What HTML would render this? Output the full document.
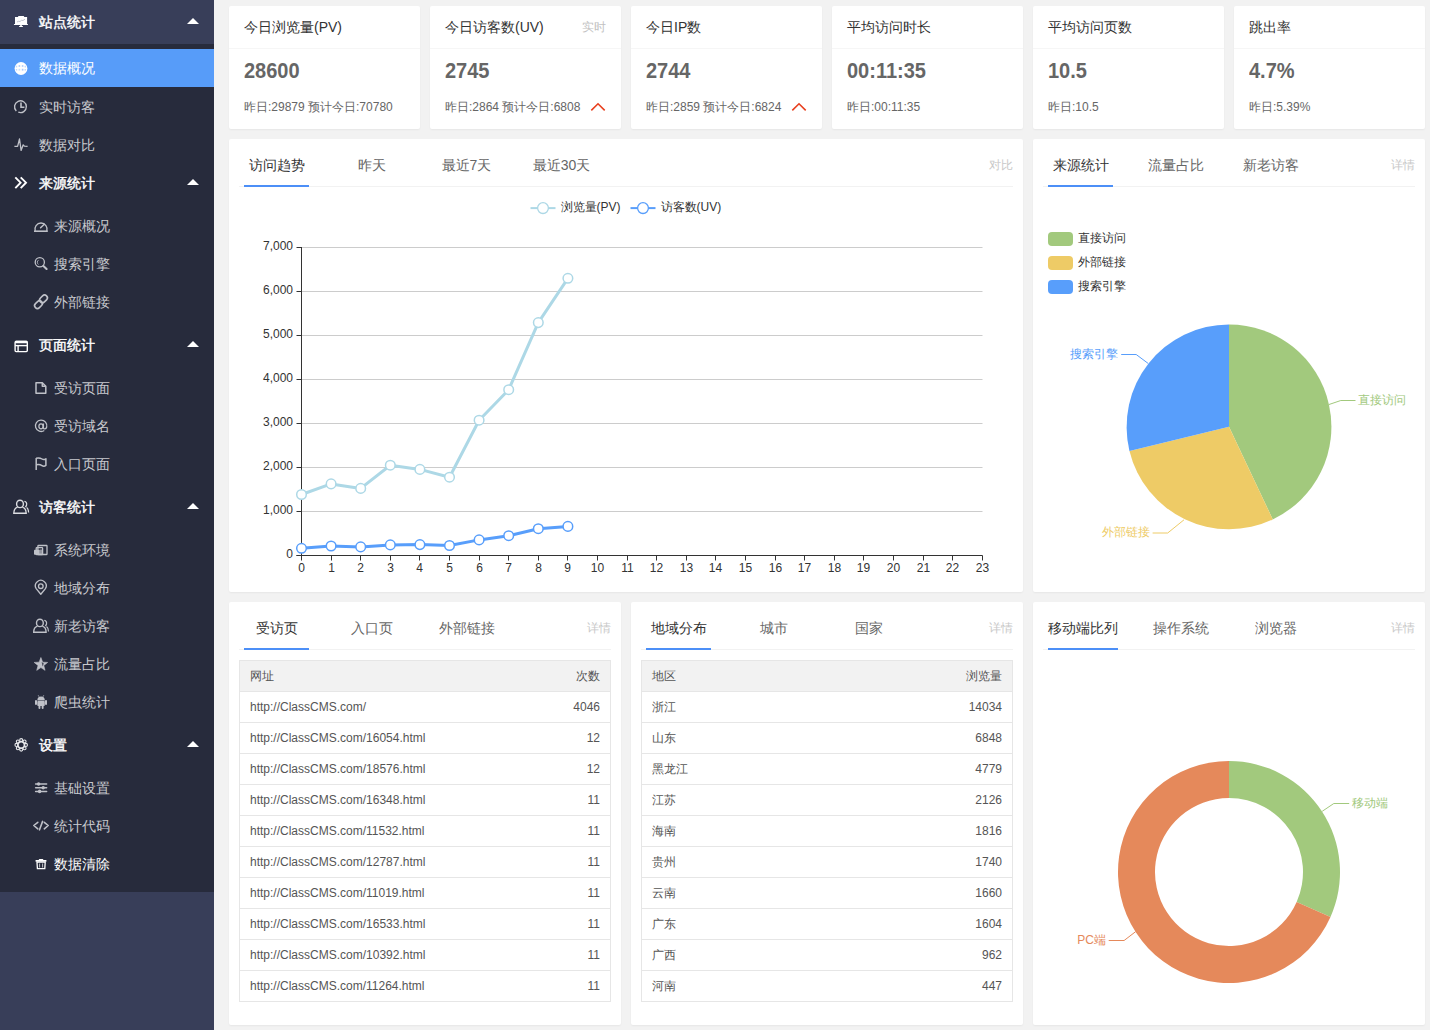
<!DOCTYPE html><html><head><meta charset="utf-8"><style>
*{box-sizing:border-box;margin:0;padding:0}
html,body{width:1430px;height:1030px;overflow:hidden;background:#f2f2f2;font-family:"Liberation Sans",sans-serif;color:#333}
.abs{position:absolute}
#side{position:absolute;left:0;top:0;width:214px;height:1030px;background:#383e59}
#side .dark{position:absolute;left:0;top:44px;width:214px;height:848px;background:#272b3c}
#side .sel-bg{position:absolute;left:0;top:49px;width:214px;height:38px;background:#579cf9}
.mi{position:absolute;left:0;width:214px;height:38px;line-height:38px;font-size:14px;color:#c9cacf;white-space:nowrap}
.mi .t{position:absolute;left:39px;top:0}
.mi.sub .t{left:54px}
.mi.grp,.mi.sel,.mi.hov{color:#fff}
.mi.grp .t{font-weight:normal;-webkit-text-stroke:0.4px #fff}
.mi svg{position:absolute}
.mi .arr{position:absolute;left:187px;top:15px;width:0;height:0;border-left:6px solid transparent;border-right:6px solid transparent;border-bottom:6px solid #fff}
.card{position:absolute;background:#fff;border-radius:2px;box-shadow:0 1px 2px 0 rgba(0,0,0,.05)}
.sc .hd{height:43px;line-height:42px;padding:0 15px;border-bottom:1px solid #f6f6f6;font-size:14px;color:#333;position:relative}
.sc .hd .rt{position:absolute;right:15px;top:0;font-size:12px;color:#c2c2c2}
.sc .num{position:absolute;left:15px;top:50px;font-size:20px;font-weight:bold;color:#666;line-height:30px;transform:scaleY(1.07);transform-origin:0 22px}
.sc .sub{position:absolute;left:15px;top:86px;font-size:12px;color:#666;line-height:30px}
.sc .up{position:absolute;right:15px;top:96px}
.tabs{position:absolute;left:0;top:0;height:48px;right:0}
.tabs .ln{position:absolute;left:10px;right:10px;top:47px;height:1px;background:#f2f2f2}
.tabs .ul{position:absolute;left:0;top:6px;white-space:nowrap;font-size:0}
.tabs .li{display:inline-block;position:relative;box-sizing:content-box;min-width:65px;height:40px;line-height:40px;padding:0 15px;text-align:center;font-size:14px;color:#666}
.tabs .li.on{color:#333}
.tabs .li.on:after{content:"";position:absolute;left:15px;right:15px;top:40px;height:2px;background:#4c8ff7}
.tabs .rt{position:absolute;right:10px;top:6px;line-height:40px;font-size:12px;color:#c8c8c8}
table.t{position:absolute;border-collapse:collapse;font-size:12px;color:#555;table-layout:fixed}
table.t td,table.t th{border-top:1px solid #e6e6e6;border-bottom:1px solid #e6e6e6;height:31px;padding:0 10px;line-height:20px;font-weight:normal;text-align:left}
table.t th{background:#f2f2f2}
table.t{border:1px solid #e6e6e6}
table.t .r{text-align:right}
svg text{font-family:"Liberation Sans",sans-serif}
.al{font-size:12px;fill:#333}
.lg{font-size:12px;fill:#333}
.pl{font-size:12px}

</style></head><body>
<div id="side"><div class="dark"></div>
<div class="sel-bg"></div>
<div class="mi grp" style="top:3px"><span class="t">站点统计</span><span class="arr"></span></div>
<div class="mi sel" style="top:49px"><span class="t">数据概况</span></div>
<div class="mi" style="top:88px"><span class="t">实时访客</span></div>
<div class="mi" style="top:126px"><span class="t">数据对比</span></div>
<div class="mi grp" style="top:164px"><span class="t">来源统计</span><span class="arr"></span></div>
<div class="mi sub" style="top:207px"><span class="t">来源概况</span></div>
<div class="mi sub" style="top:245px"><span class="t">搜索引擎</span></div>
<div class="mi sub" style="top:283px"><span class="t">外部链接</span></div>
<div class="mi grp" style="top:326px"><span class="t">页面统计</span><span class="arr"></span></div>
<div class="mi sub" style="top:369px"><span class="t">受访页面</span></div>
<div class="mi sub" style="top:407px"><span class="t">受访域名</span></div>
<div class="mi sub" style="top:445px"><span class="t">入口页面</span></div>
<div class="mi grp" style="top:488px"><span class="t">访客统计</span><span class="arr"></span></div>
<div class="mi sub" style="top:531px"><span class="t">系统环境</span></div>
<div class="mi sub" style="top:569px"><span class="t">地域分布</span></div>
<div class="mi sub" style="top:607px"><span class="t">新老访客</span></div>
<div class="mi sub" style="top:645px"><span class="t">流量占比</span></div>
<div class="mi sub" style="top:683px"><span class="t">爬虫统计</span></div>
<div class="mi grp" style="top:726px"><span class="t">设置</span><span class="arr"></span></div>
<div class="mi sub" style="top:769px"><span class="t">基础设置</span></div>
<div class="mi sub" style="top:807px"><span class="t">统计代码</span></div>
<div class="mi sub hov" style="top:845px"><span class="t">数据清除</span></div>
<svg class="abs" style="left:0;top:0;pointer-events:none" width="214" height="1030"><g fill="#ffffff"><rect x="18" y="15.9" width="6.2" height="1.6" rx="0.8"/><rect x="15" y="17" width="12.1" height="7.2"/><rect x="13.9" y="24" width="14.1" height="1.1" rx="0.4"/><rect x="20.2" y="25" width="1.6" height="1.2"/><rect x="19" y="26" width="4" height="1.1" rx="0.5"/></g><polyline points="17,22 18.5,21.3 20,21.5 21.5,20.3 23,20.5 25,19.2" fill="none" stroke="#9aa0b0" stroke-width="0.6"/><circle cx="21" cy="68.5" r="6.4" fill="#ffffff"/><g fill="#a9c9fb"><rect x="18.6" y="65.2" width="1.6" height="1.6"/><rect x="21.8" y="65.2" width="1.6" height="1.6"/><rect x="18.6" y="68.8" width="1.6" height="1.8" opacity=".6"/><rect x="21.8" y="68.8" width="1.6" height="1.8"/><rect x="15.8" y="65.8" width="1.4" height="1.6" opacity=".7"/><rect x="24.6" y="65.8" width="1.4" height="1.6" opacity=".7"/><rect x="15.8" y="69" width="1.4" height="1.6" opacity=".7"/><rect x="24.6" y="69" width="1.4" height="1.6" opacity=".7"/></g><g fill="none" stroke="#bfc1c8" stroke-width="1.4"><path d="M16.3,110.9 A5.9,5.9 0 1 1 18.3,112.2"/><polyline points="21,102.6 21,107.3 24.4,107.3" stroke-width="1.6"/></g><polyline points="14.4,146.3 17.6,146.3 19.5,139 21.1,150.4 23.2,144.8 24.4,146.2 27.6,146.3" fill="none" stroke="#bfc1c8" stroke-width="1.3" stroke-linejoin="round"/><g fill="none" stroke="#ffffff" stroke-width="1.9"><polyline points="15.3,177.3 20.6,182.7 15.3,188.1"/><polyline points="20.7,177.3 26,182.7 20.7,188.1"/></g><g fill="none" stroke="#bfc1c8" stroke-width="1.3"><path d="M35.2,231 A6.1,6.1 0 1 1 46.8,231"/><line x1="34" y1="231.2" x2="47.8" y2="231.2" stroke-width="1.6"/><line x1="40.6" y1="227.8" x2="44.3" y2="224.3" stroke-width="1.5" stroke-linecap="round"/></g><g fill="none" stroke="#bfc1c8"><circle cx="39.8" cy="262.3" r="4.6" stroke-width="1.3"/><path d="M38.4,260.2 A2.6,2.6 0 0 0 38.4,264.4" stroke-width="0.9"/><line x1="43.4" y1="266" x2="46.6" y2="269" stroke-width="2.1" stroke-linecap="round"/></g><g fill="none" stroke="#bfc1c8" stroke-width="1.6"><rect x="-4.3" y="-2.8" width="8.6" height="5.6" rx="2.8" transform="translate(43.5,298.9) rotate(-45)"/><rect x="-4.3" y="-2.8" width="8.6" height="5.6" rx="2.8" transform="translate(38.5,304.6) rotate(-45)"/></g><g fill="none" stroke="#ffffff" stroke-width="1.4"><rect x="15.1" y="341.4" width="12.2" height="10.2" rx="1"/><line x1="15.1" y1="345.6" x2="27.3" y2="345.6"/><line x1="18.1" y1="345.6" x2="18.1" y2="351.6"/></g><rect x="15" y="340.7" width="12.4" height="2.6" fill="#ffffff" rx="0.8"/><g fill="none" stroke="#bfc1c8" stroke-width="1.5" stroke-linejoin="round"><path d="M36,382.8 L42.3,382.8 L45.8,386.3 L45.8,393.2 L36,393.2 Z"/><path d="M42.3,382.8 L42.3,386.3 L45.8,386.3"/></g><g fill="none" stroke="#bfc1c8" stroke-width="1.3"><ellipse cx="41" cy="426.3" rx="2.1" ry="2.5"/><path d="M43.4,423.4 L43.4,427.8 C43.6,429.4 46.1,429.5 46.7,427 A5.7,5.7 0 1 0 44.3,430.5"/></g><g fill="none" stroke="#bfc1c8" stroke-width="1.5" stroke-linejoin="round"><line x1="36.2" y1="458" x2="36.2" y2="470"/><path d="M36.2,458.2 C39,457.4 40.8,458.2 42,459 C43.5,460 44.8,459.6 45.9,458.8 L45.9,465.4 C44.8,466.3 43.5,466.6 42,465.6 C40.8,464.8 39,464.2 36.2,464.8"/></g><g fill="none" stroke="#dcdde1" stroke-width="1.4" transform="translate(0,0)"><ellipse cx="20" cy="503.9" rx="3.4" ry="3.7"/><path d="M17.6,507.2 C15.2,507.9 13.8,510.3 13.8,513.3 L26.2,513.3 C26.2,510.3 24.8,507.9 22.4,507.2"/><path d="M24.4,501.3 C26.2,501.6 27,503.2 26.6,505 C26.4,506 25.8,506.6 25.4,507" stroke-width="1.2"/><path d="M26.6,507.6 C27.9,508.6 28.6,510.5 28.6,512.4" stroke-width="1.2"/></g><g fill="none" stroke="#bfc1c8" stroke-width="1.3"><rect x="37.9" y="545.5" width="9.1" height="9" rx="0.6"/><rect x="36.2" y="547.7" width="6.4" height="6.8" rx="0.6"/></g><rect x="34" y="549.8" width="5.7" height="5" rx="0.8" fill="#bfc1c8"/><rect x="39.6" y="549.5" width="2.6" height="4.6" fill="#bfc1c8" opacity=".7"/><g fill="none" stroke="#bfc1c8" stroke-width="1.35"><path d="M40.8,594.2 L36.2,588.6 A5.4,5.4 0 1 1 45.4,588.6 Z" stroke-linejoin="round"/><circle cx="40.8" cy="586.2" r="2.3"/></g><g fill="none" stroke="#bfc1c8" stroke-width="1.4" transform="translate(19.9,119)"><ellipse cx="20" cy="503.9" rx="3.4" ry="3.7"/><path d="M17.6,507.2 C15.2,507.9 13.8,510.3 13.8,513.3 L26.2,513.3 C26.2,510.3 24.8,507.9 22.4,507.2"/><path d="M24.4,501.3 C26.2,501.6 27,503.2 26.6,505 C26.4,506 25.8,506.6 25.4,507" stroke-width="1.2"/><path d="M26.6,507.6 C27.9,508.6 28.6,510.5 28.6,512.4" stroke-width="1.2"/></g><polygon points="40.90,657.50 39.14,662.17 34.15,662.41 38.05,665.53 36.73,670.34 40.90,667.60 45.07,670.34 43.75,665.53 47.65,662.41 42.66,662.17" fill="#bfc1c8" stroke="#bfc1c8" stroke-width="0.6" stroke-linejoin="round"/><path d="M41.6,662 L43.8,663.6 L42.6,666.5 Z" fill="#282b3c" opacity=".8"/><g fill="#bfc1c8"><path d="M37.3,700.5 A3.75,3.9 0 0 1 44.8,700.5 Z"/><rect x="37.3" y="701" width="7.5" height="5" rx="0.8"/><rect x="35" y="700" width="2" height="4.9" rx="1"/><rect x="45" y="700" width="2" height="4.9" rx="1"/><rect x="38.5" y="705" width="1.9" height="3.9" rx="0.9"/><rect x="41.7" y="705" width="1.9" height="3.9" rx="0.9"/></g><g stroke="#bfc1c8" stroke-width="0.7"><line x1="38.2" y1="695.2" x2="39" y2="696.8"/><line x1="43.8" y1="695.2" x2="43" y2="696.8"/></g><g transform="translate(21.2,744.9)" fill="#272b3c" stroke="#e6e7ea" stroke-width="1.1"><circle cx="4.70" cy="0.00" r="1.55"/><circle cx="3.32" cy="3.32" r="1.55"/><circle cx="0.00" cy="4.70" r="1.55"/><circle cx="-3.32" cy="3.32" r="1.55"/><circle cx="-4.70" cy="0.00" r="1.55"/><circle cx="-3.32" cy="-3.32" r="1.55"/><circle cx="-0.00" cy="-4.70" r="1.55"/><circle cx="3.32" cy="-3.32" r="1.55"/><circle cx="0" cy="0" r="3.3" stroke-width="1.7"/><circle cx="0" cy="0" r="1.2" stroke="none"/></g><g stroke="#bfc1c8" stroke-width="1.5" stroke-linecap="round"><line x1="35.6" y1="784" x2="46.6" y2="784"/><line x1="35.6" y1="787.7" x2="46.6" y2="787.7"/><line x1="35.6" y1="791.4" x2="46.6" y2="791.4"/></g><g fill="#bfc1c8"><ellipse cx="38.6" cy="784" rx="1.7" ry="1.8"/><ellipse cx="43.2" cy="787.7" rx="1.7" ry="1.8"/><ellipse cx="39.6" cy="791.4" rx="1.7" ry="1.8"/></g><g fill="none" stroke="#bfc1c8" stroke-width="1.6" stroke-linecap="round" stroke-linejoin="round"><polyline points="37.8,822.3 33.8,825.5 37.8,828.8"/><line x1="42.6" y1="821.4" x2="39.5" y2="829.8"/><polyline points="44.3,822.3 48.2,825.5 44.3,828.8"/></g><g fill="#ffffff"><rect x="35.4" y="860" width="11.2" height="1.8" rx="0.8"/><rect x="38.8" y="858.9" width="4.5" height="1.6" rx="0.7"/></g><path d="M37,862.2 L45.2,862.2 L44.8,868.6 L37.4,868.6 Z" fill="none" stroke="#ffffff" stroke-width="1.3"/><g stroke="#ffffff" stroke-width="0.9" opacity=".8"><line x1="39.6" y1="863.5" x2="39.6" y2="867.5"/><line x1="42.6" y1="863.5" x2="42.6" y2="867.5"/></g></svg>
</div>
<div class="card sc" style="left:229px;top:6px;width:191px;height:123px"><div class="hd">今日浏览量(PV)</div><div class="num">28600</div><div class="sub">昨日:29879 预计今日:70780</div></div>
<div class="card sc" style="left:430px;top:6px;width:191px;height:123px"><div class="hd">今日访客数(UV)<span class="rt">实时</span></div><div class="num">2745</div><div class="sub">昨日:2864 预计今日:6808</div><svg class="up" width="16" height="10" viewBox="0 0 16 10"><path d="M1.3 8.4 L8 1.8 L14.7 8.4" fill="none" stroke="#e8401f" stroke-width="1.6"/></svg></div>
<div class="card sc" style="left:631px;top:6px;width:191px;height:123px"><div class="hd">今日IP数</div><div class="num">2744</div><div class="sub">昨日:2859 预计今日:6824</div><svg class="up" width="16" height="10" viewBox="0 0 16 10"><path d="M1.3 8.4 L8 1.8 L14.7 8.4" fill="none" stroke="#e8401f" stroke-width="1.6"/></svg></div>
<div class="card sc" style="left:832px;top:6px;width:191px;height:123px"><div class="hd">平均访问时长</div><div class="num">00:11:35</div><div class="sub">昨日:00:11:35</div></div>
<div class="card sc" style="left:1033px;top:6px;width:191px;height:123px"><div class="hd">平均访问页数</div><div class="num">10.5</div><div class="sub">昨日:10.5</div></div>
<div class="card sc" style="left:1234px;top:6px;width:191px;height:123px"><div class="hd">跳出率</div><div class="num">4.7%</div><div class="sub">昨日:5.39%</div></div>
<div class="card" style="left:229px;top:139px;width:794px;height:453px"><div class="tabs"><div class="ln"></div><div class="ul"><div class="li on">访问趋势</div><div class="li">昨天</div><div class="li">最近7天</div><div class="li">最近30天</div></div><span class="rt">对比</span></div><svg class="abs" style="left:0;top:0" width="794" height="453"><line x1="72.5" y1="372.5" x2="753.5" y2="372.5" stroke="#ccc" stroke-width="1"/><line x1="72.5" y1="328.5" x2="753.5" y2="328.5" stroke="#ccc" stroke-width="1"/><line x1="72.5" y1="284.5" x2="753.5" y2="284.5" stroke="#ccc" stroke-width="1"/><line x1="72.5" y1="240.5" x2="753.5" y2="240.5" stroke="#ccc" stroke-width="1"/><line x1="72.5" y1="196.5" x2="753.5" y2="196.5" stroke="#ccc" stroke-width="1"/><line x1="72.5" y1="152.5" x2="753.5" y2="152.5" stroke="#ccc" stroke-width="1"/><line x1="72.5" y1="108.5" x2="753.5" y2="108.5" stroke="#ccc" stroke-width="1"/><line x1="72.5" y1="108.0" x2="72.5" y2="416.5" stroke="#333" stroke-width="1"/><line x1="67.5" y1="416.5" x2="753.5" y2="416.5" stroke="#333" stroke-width="1"/><line x1="67.5" y1="416.5" x2="72.5" y2="416.5" stroke="#333" stroke-width="1"/><text x="64.0" y="418.5" text-anchor="end" class="al">0</text><line x1="67.5" y1="372.5" x2="72.5" y2="372.5" stroke="#333" stroke-width="1"/><text x="64.0" y="374.5" text-anchor="end" class="al">1,000</text><line x1="67.5" y1="328.5" x2="72.5" y2="328.5" stroke="#333" stroke-width="1"/><text x="64.0" y="330.5" text-anchor="end" class="al">2,000</text><line x1="67.5" y1="284.5" x2="72.5" y2="284.5" stroke="#333" stroke-width="1"/><text x="64.0" y="286.5" text-anchor="end" class="al">3,000</text><line x1="67.5" y1="240.5" x2="72.5" y2="240.5" stroke="#333" stroke-width="1"/><text x="64.0" y="242.5" text-anchor="end" class="al">4,000</text><line x1="67.5" y1="196.5" x2="72.5" y2="196.5" stroke="#333" stroke-width="1"/><text x="64.0" y="198.5" text-anchor="end" class="al">5,000</text><line x1="67.5" y1="152.5" x2="72.5" y2="152.5" stroke="#333" stroke-width="1"/><text x="64.0" y="154.5" text-anchor="end" class="al">6,000</text><line x1="67.5" y1="108.5" x2="72.5" y2="108.5" stroke="#333" stroke-width="1"/><text x="64.0" y="110.5" text-anchor="end" class="al">7,000</text><line x1="72.5" y1="416.5" x2="72.5" y2="421.5" stroke="#333" stroke-width="1"/><text x="72.5" y="432.5" text-anchor="middle" class="al">0</text><line x1="102.5" y1="416.5" x2="102.5" y2="421.5" stroke="#333" stroke-width="1"/><text x="102.5" y="432.5" text-anchor="middle" class="al">1</text><line x1="131.5" y1="416.5" x2="131.5" y2="421.5" stroke="#333" stroke-width="1"/><text x="131.5" y="432.5" text-anchor="middle" class="al">2</text><line x1="161.5" y1="416.5" x2="161.5" y2="421.5" stroke="#333" stroke-width="1"/><text x="161.5" y="432.5" text-anchor="middle" class="al">3</text><line x1="190.5" y1="416.5" x2="190.5" y2="421.5" stroke="#333" stroke-width="1"/><text x="190.5" y="432.5" text-anchor="middle" class="al">4</text><line x1="220.5" y1="416.5" x2="220.5" y2="421.5" stroke="#333" stroke-width="1"/><text x="220.5" y="432.5" text-anchor="middle" class="al">5</text><line x1="250.5" y1="416.5" x2="250.5" y2="421.5" stroke="#333" stroke-width="1"/><text x="250.5" y="432.5" text-anchor="middle" class="al">6</text><line x1="279.5" y1="416.5" x2="279.5" y2="421.5" stroke="#333" stroke-width="1"/><text x="279.5" y="432.5" text-anchor="middle" class="al">7</text><line x1="309.5" y1="416.5" x2="309.5" y2="421.5" stroke="#333" stroke-width="1"/><text x="309.5" y="432.5" text-anchor="middle" class="al">8</text><line x1="338.5" y1="416.5" x2="338.5" y2="421.5" stroke="#333" stroke-width="1"/><text x="338.5" y="432.5" text-anchor="middle" class="al">9</text><line x1="368.5" y1="416.5" x2="368.5" y2="421.5" stroke="#333" stroke-width="1"/><text x="368.5" y="432.5" text-anchor="middle" class="al">10</text><line x1="398.5" y1="416.5" x2="398.5" y2="421.5" stroke="#333" stroke-width="1"/><text x="398.5" y="432.5" text-anchor="middle" class="al">11</text><line x1="427.5" y1="416.5" x2="427.5" y2="421.5" stroke="#333" stroke-width="1"/><text x="427.5" y="432.5" text-anchor="middle" class="al">12</text><line x1="457.5" y1="416.5" x2="457.5" y2="421.5" stroke="#333" stroke-width="1"/><text x="457.5" y="432.5" text-anchor="middle" class="al">13</text><line x1="486.5" y1="416.5" x2="486.5" y2="421.5" stroke="#333" stroke-width="1"/><text x="486.5" y="432.5" text-anchor="middle" class="al">14</text><line x1="516.5" y1="416.5" x2="516.5" y2="421.5" stroke="#333" stroke-width="1"/><text x="516.5" y="432.5" text-anchor="middle" class="al">15</text><line x1="546.5" y1="416.5" x2="546.5" y2="421.5" stroke="#333" stroke-width="1"/><text x="546.5" y="432.5" text-anchor="middle" class="al">16</text><line x1="575.5" y1="416.5" x2="575.5" y2="421.5" stroke="#333" stroke-width="1"/><text x="575.5" y="432.5" text-anchor="middle" class="al">17</text><line x1="605.5" y1="416.5" x2="605.5" y2="421.5" stroke="#333" stroke-width="1"/><text x="605.5" y="432.5" text-anchor="middle" class="al">18</text><line x1="634.5" y1="416.5" x2="634.5" y2="421.5" stroke="#333" stroke-width="1"/><text x="634.5" y="432.5" text-anchor="middle" class="al">19</text><line x1="664.5" y1="416.5" x2="664.5" y2="421.5" stroke="#333" stroke-width="1"/><text x="664.5" y="432.5" text-anchor="middle" class="al">20</text><line x1="694.5" y1="416.5" x2="694.5" y2="421.5" stroke="#333" stroke-width="1"/><text x="694.5" y="432.5" text-anchor="middle" class="al">21</text><line x1="723.5" y1="416.5" x2="723.5" y2="421.5" stroke="#333" stroke-width="1"/><text x="723.5" y="432.5" text-anchor="middle" class="al">22</text><line x1="753.5" y1="416.5" x2="753.5" y2="421.5" stroke="#333" stroke-width="1"/><text x="753.5" y="432.5" text-anchor="middle" class="al">23</text><polyline points="72.5,355.5 102.1,344.9 131.7,349.4 161.3,326.2 190.9,330.4 220.5,338.2 250.1,281.2 279.7,250.7 309.3,183.6 338.9,139.3" fill="none" stroke="#add8e6" stroke-width="3" stroke-linejoin="round"/><circle cx="72.5" cy="355.5" r="4.8" fill="#fff" stroke="#add8e6" stroke-width="1.5"/><circle cx="102.1" cy="344.9" r="4.8" fill="#fff" stroke="#add8e6" stroke-width="1.5"/><circle cx="131.7" cy="349.4" r="4.8" fill="#fff" stroke="#add8e6" stroke-width="1.5"/><circle cx="161.3" cy="326.2" r="4.8" fill="#fff" stroke="#add8e6" stroke-width="1.5"/><circle cx="190.9" cy="330.4" r="4.8" fill="#fff" stroke="#add8e6" stroke-width="1.5"/><circle cx="220.5" cy="338.2" r="4.8" fill="#fff" stroke="#add8e6" stroke-width="1.5"/><circle cx="250.1" cy="281.2" r="4.8" fill="#fff" stroke="#add8e6" stroke-width="1.5"/><circle cx="279.7" cy="250.7" r="4.8" fill="#fff" stroke="#add8e6" stroke-width="1.5"/><circle cx="309.3" cy="183.6" r="4.8" fill="#fff" stroke="#add8e6" stroke-width="1.5"/><circle cx="338.9" cy="139.3" r="4.8" fill="#fff" stroke="#add8e6" stroke-width="1.5"/><polyline points="72.5,409.3 102.1,407.0 131.7,407.9 161.3,405.9 190.9,405.6 220.5,406.5 250.1,400.9 279.7,396.7 309.3,389.7 338.9,387.4" fill="none" stroke="#589efb" stroke-width="3" stroke-linejoin="round"/><circle cx="72.5" cy="409.3" r="4.8" fill="#fff" stroke="#589efb" stroke-width="1.5"/><circle cx="102.1" cy="407.0" r="4.8" fill="#fff" stroke="#589efb" stroke-width="1.5"/><circle cx="131.7" cy="407.9" r="4.8" fill="#fff" stroke="#589efb" stroke-width="1.5"/><circle cx="161.3" cy="405.9" r="4.8" fill="#fff" stroke="#589efb" stroke-width="1.5"/><circle cx="190.9" cy="405.6" r="4.8" fill="#fff" stroke="#589efb" stroke-width="1.5"/><circle cx="220.5" cy="406.5" r="4.8" fill="#fff" stroke="#589efb" stroke-width="1.5"/><circle cx="250.1" cy="400.9" r="4.8" fill="#fff" stroke="#589efb" stroke-width="1.5"/><circle cx="279.7" cy="396.7" r="4.8" fill="#fff" stroke="#589efb" stroke-width="1.5"/><circle cx="309.3" cy="389.7" r="4.8" fill="#fff" stroke="#589efb" stroke-width="1.5"/><circle cx="338.9" cy="387.4" r="4.8" fill="#fff" stroke="#589efb" stroke-width="1.5"/><line x1="301.5" y1="69.1" x2="326.5" y2="69.1" stroke="#add8e6" stroke-width="2"/><circle cx="314.0" cy="69.1" r="5.4" fill="#fff" stroke="#add8e6" stroke-width="1.3"/><text x="331.5" y="72.3" class="lg">浏览量(PV)</text><line x1="401.5" y1="69.1" x2="426.5" y2="69.1" stroke="#589efb" stroke-width="2"/><circle cx="414.0" cy="69.1" r="5.4" fill="#fff" stroke="#589efb" stroke-width="1.3"/><text x="431.5" y="72.3" class="lg">访客数(UV)</text></svg></div>
<div class="card" style="left:1033px;top:139px;width:392px;height:453px"><div class="tabs"><div class="ln"></div><div class="ul"><div class="li on">来源统计</div><div class="li">流量占比</div><div class="li">新老访客</div></div><span class="rt">详情</span></div><svg class="abs" style="left:0;top:0" width="392" height="453"><path d="M196.00,287.80 L196.00,185.40 A102.4,102.4 0 0 1 239.76,380.38 Z" fill="#a2c97d"/><path d="M196.00,287.80 L239.76,380.38 A102.4,102.4 0 0 1 96.47,311.88 Z" fill="#eecb66"/><path d="M196.00,287.80 L96.47,311.88 A102.4,102.4 0 0 1 196.00,185.40 Z" fill="#589efb"/><polyline points="296.0,265.5 307.8,261.5 322.5,261.5" fill="none" stroke="#a2c97d" stroke-width="1"/><text x="325" y="265" fill="#a2c97d" class="pl">直接访问</text><polyline points="115.1,224.4 103.2,215.5 88.2,215.5" fill="none" stroke="#589efb" stroke-width="1"/><text x="85" y="219" fill="#589efb" class="pl" text-anchor="end">搜索引擎</text><polyline points="151.0,380.8 134.7,394.0 119.6,394.0" fill="none" stroke="#eecb66" stroke-width="1"/><text x="117" y="397" fill="#eecb66" class="pl" text-anchor="end">外部链接</text><rect x="15" y="93" width="25" height="14" rx="4" fill="#a2c97d"/><text x="45" y="102.7" class="lg">直接访问</text><rect x="15" y="117" width="25" height="14" rx="4" fill="#eecb66"/><text x="45" y="126.7" class="lg">外部链接</text><rect x="15" y="141" width="25" height="14" rx="4" fill="#589efb"/><text x="45" y="150.7" class="lg">搜索引擎</text></svg></div>
<div class="card" style="left:229px;top:602px;width:392px;height:423px"><div class="tabs"><div class="ln"></div><div class="ul"><div class="li on">受访页</div><div class="li">入口页</div><div class="li">外部链接</div></div><span class="rt">详情</span></div><table class="t" style="left:10px;top:58px;width:372px"><colgroup><col><col style="width:80px"></colgroup><tr><th>网址</th><th class="r">次数</th></tr><tr><td>http://ClassCMS.com/</td><td class="r">4046</td></tr><tr><td>http://ClassCMS.com/16054.html</td><td class="r">12</td></tr><tr><td>http://ClassCMS.com/18576.html</td><td class="r">12</td></tr><tr><td>http://ClassCMS.com/16348.html</td><td class="r">11</td></tr><tr><td>http://ClassCMS.com/11532.html</td><td class="r">11</td></tr><tr><td>http://ClassCMS.com/12787.html</td><td class="r">11</td></tr><tr><td>http://ClassCMS.com/11019.html</td><td class="r">11</td></tr><tr><td>http://ClassCMS.com/16533.html</td><td class="r">11</td></tr><tr><td>http://ClassCMS.com/10392.html</td><td class="r">11</td></tr><tr><td>http://ClassCMS.com/11264.html</td><td class="r">11</td></tr></table></div>
<div class="card" style="left:631px;top:602px;width:392px;height:423px"><div class="tabs"><div class="ln"></div><div class="ul"><div class="li on">地域分布</div><div class="li">城市</div><div class="li">国家</div></div><span class="rt">详情</span></div><table class="t" style="left:10px;top:58px;width:372px"><colgroup><col><col style="width:80px"></colgroup><tr><th>地区</th><th class="r">浏览量</th></tr><tr><td>浙江</td><td class="r">14034</td></tr><tr><td>山东</td><td class="r">6848</td></tr><tr><td>黑龙江</td><td class="r">4779</td></tr><tr><td>江苏</td><td class="r">2126</td></tr><tr><td>海南</td><td class="r">1816</td></tr><tr><td>贵州</td><td class="r">1740</td></tr><tr><td>云南</td><td class="r">1660</td></tr><tr><td>广东</td><td class="r">1604</td></tr><tr><td>广西</td><td class="r">962</td></tr><tr><td>河南</td><td class="r">447</td></tr></table></div>
<div class="card" style="left:1033px;top:602px;width:392px;height:423px"><div class="tabs"><div class="ln"></div><div class="ul"><div class="li on">移动端比列</div><div class="li">操作系统</div><div class="li">浏览器</div></div><span class="rt">详情</span></div><svg class="abs" style="left:0;top:0" width="392" height="423"><path d="M196.00,159.00 A111,111 0 0 1 297.48,314.97 L263.65,299.98 A74,74 0 0 0 196.00,196.00 Z" fill="#a2c97d"/><path d="M297.48,314.97 A111,111 0 1 1 196.00,159.00 L196.00,196.00 A74,74 0 1 0 263.65,299.98 Z" fill="#e5895b"/><polyline points="289.2,209.3 300.8,201.5 316.2,201.5" fill="none" stroke="#a2c97d" stroke-width="1"/><text x="319" y="205" fill="#a2c97d" class="pl">移动端</text><polyline points="102.7,329.6 91.1,338.5 75.7,338.5" fill="none" stroke="#e5895b" stroke-width="1"/><text x="73" y="342" fill="#e5895b" class="pl" text-anchor="end">PC端</text></svg></div>
</body></html>
